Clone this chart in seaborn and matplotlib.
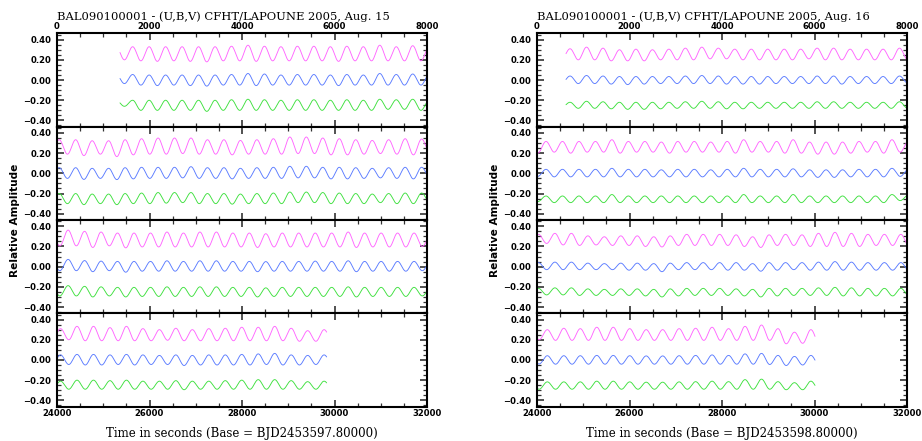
import numpy as np
import pandas as pd
import matplotlib
matplotlib.use("Agg")
import matplotlib.pyplot as plt
import seaborn as sns
from matplotlib.ticker import MultipleLocator, FuncFormatter

sns.set_theme(style="ticks")
plt.rcParams["font.family"] = ["DejaVu Sans"]

# ---------------- data ----------------
titles = ["BAL090100001 - (U,B,V) CFHT/LAPOUNE 2005, Aug. 15",
          "BAL090100001 - (U,B,V) CFHT/LAPOUNE 2005, Aug. 16"]
xlabels = ["Time in seconds (Base = BJD2453597.80000)",
           "Time in seconds (Base = BJD2453598.80000)"]
ylabel = "Relative Amplitude"
bands = ["U", "B", "V"]
band_colors = ["#ff66ff", "#5a7bff", "#3ee03e"]

period = 356.2                    # pulsation period (s)
strip_len = 8000                  # seconds per strip
n_strips = 4
night_start = [1362, 627]         # first data point (s)
night_end = [29831, 30011]        # last data point (s)
night_first_peak = [1636, 714.4]  # time of first maximum after start (s)

# night 1 (Aug. 15): value at each maximum / at the minimum preceding it
n1_U_peaks = [0.33,0.33,0.33,0.33,0.33,0.33,0.335,0.345,0.335,0.33,0.335,0.335,0.33,0.335,0.33,0.345,0.33,0.34,
              0.333,0.333,0.323,0.323,0.333,0.343,0.35,0.35,0.35,0.333,0.333,0.326,0.333,0.343,0.36,0.36,0.35,0.343,0.333,0.326,0.333,0.343,0.34,
              0.362,0.35,0.343,0.333,0.333,0.333,0.343,0.333,0.343,0.343,0.333,0.333,0.326,0.333,0.333,0.333,0.333,0.343,0.333,0.333,0.333,0.333,
              0.31,0.333,0.333,0.32,0.333,0.31,0.30,0.314,0.30,0.31,0.314,0.324,0.324,0.333,0.314,0.29,0.30]
n1_U_troughs = [0.20,0.19,0.185,0.19,0.185,0.18,0.19,0.19,0.185,0.19,0.19,0.19,0.19,0.185,0.19,0.19,0.19,0.19,
                0.19,0.19,0.176,0.19,0.166,0.183,0.19,0.19,0.196,0.19,0.19,0.183,0.19,0.19,0.19,0.196,0.196,0.183,0.183,0.19,0.196,0.19,0.183,
                0.206,0.206,0.19,0.206,0.186,0.195,0.195,0.195,0.195,0.195,0.195,0.195,0.19,0.195,0.195,0.195,0.195,0.195,0.19,0.195,0.195,0.195,
                0.20,0.20,0.19,0.19,0.19,0.19,0.19,0.195,0.19,0.19,0.19,0.19,0.19,0.19,0.19,0.185,0.185]
n1_B_peaks = [0.055,0.05,0.05,0.05,0.05,0.05,0.055,0.065,0.06,0.05,0.055,0.055,0.05,0.055,0.05,0.065,0.055,0.06,
              0.056,0.056,0.05,0.05,0.056,0.06,0.06,0.06,0.066,0.056,0.056,0.05,0.056,0.06,0.07,0.07,0.06,0.06,0.056,0.05,0.056,0.06,0.06,
              0.072,0.06,0.055,0.052,0.052,0.052,0.058,0.052,0.058,0.058,0.052,0.052,0.05,0.052,0.052,0.055,0.052,0.058,0.052,0.052,0.052,0.052,
              0.05,0.055,0.055,0.05,0.055,0.05,0.045,0.05,0.045,0.05,0.05,0.055,0.06,0.065,0.05,0.045,0.05]
n1_B_troughs = [-0.035,-0.05,-0.055,-0.05,-0.055,-0.06,-0.05,-0.05,-0.055,-0.05,-0.05,-0.05,-0.05,-0.055,-0.05,-0.05,-0.05,-0.05,
                -0.05,-0.05,-0.06,-0.05,-0.062,-0.055,-0.05,-0.05,-0.045,-0.05,-0.05,-0.055,-0.05,-0.05,-0.05,-0.045,-0.045,-0.055,-0.055,-0.05,-0.045,-0.05,-0.055,
                -0.04,-0.04,-0.05,-0.04,-0.055,-0.045,-0.045,-0.045,-0.045,-0.045,-0.045,-0.045,-0.05,-0.045,-0.045,-0.045,-0.045,-0.045,-0.05,-0.045,-0.045,-0.045,
                -0.04,-0.045,-0.05,-0.05,-0.045,-0.05,-0.045,-0.045,-0.055,-0.05,-0.05,-0.05,-0.05,-0.045,-0.05,-0.05,-0.045]
n1_V_peaks = [-0.20,-0.20,-0.20,-0.20,-0.20,-0.20,-0.195,-0.19,-0.195,-0.20,-0.195,-0.195,-0.20,-0.195,-0.20,-0.19,-0.195,-0.19,
              -0.20,-0.20,-0.205,-0.205,-0.20,-0.195,-0.19,-0.19,-0.19,-0.20,-0.20,-0.205,-0.20,-0.195,-0.185,-0.185,-0.19,-0.195,-0.20,-0.205,-0.20,-0.195,-0.195,
              -0.188,-0.195,-0.20,-0.205,-0.205,-0.205,-0.20,-0.205,-0.20,-0.20,-0.205,-0.205,-0.21,-0.205,-0.205,-0.205,-0.205,-0.20,-0.205,-0.205,-0.205,-0.205,
              -0.21,-0.20,-0.20,-0.205,-0.20,-0.21,-0.21,-0.205,-0.21,-0.21,-0.205,-0.20,-0.195,-0.195,-0.205,-0.215,-0.21]
n1_V_troughs = [-0.26,-0.30,-0.30,-0.30,-0.30,-0.31,-0.30,-0.30,-0.30,-0.30,-0.30,-0.30,-0.30,-0.30,-0.30,-0.30,-0.29,-0.29,
                -0.30,-0.30,-0.31,-0.30,-0.31,-0.30,-0.30,-0.295,-0.29,-0.30,-0.30,-0.305,-0.30,-0.30,-0.30,-0.29,-0.29,-0.30,-0.30,-0.30,-0.29,-0.30,-0.30,
                -0.29,-0.29,-0.30,-0.29,-0.30,-0.295,-0.295,-0.295,-0.295,-0.295,-0.295,-0.295,-0.30,-0.295,-0.295,-0.295,-0.295,-0.295,-0.30,-0.295,-0.295,-0.295,
                -0.29,-0.29,-0.29,-0.29,-0.29,-0.29,-0.29,-0.29,-0.295,-0.29,-0.29,-0.29,-0.29,-0.29,-0.29,-0.29,-0.29]

# night 2 (Aug. 16)
n2_U_peaks = [0.31,0.326,0.316,0.30,0.306,0.30,0.306,0.316,0.326,0.316,0.306,0.306,0.306,0.306,0.306,0.316,0.316,0.306,0.306,0.306,0.316,
              0.316,0.316,0.316,0.316,0.333,0.316,0.316,0.31,0.316,0.316,0.31,0.316,0.333,0.316,0.316,0.333,0.31,0.31,0.31,0.316,0.316,0.333,
              0.32,0.33,0.33,0.305,0.296,0.305,0.305,0.296,0.305,0.32,0.32,0.32,0.315,0.296,0.315,0.32,0.315,0.33,0.34,0.33,0.32,0.32,0.32,
              0.30,0.314,0.31,0.324,0.324,0.31,0.30,0.30,0.31,0.314,0.324,0.31,0.333,0.346,0.31,0.275,0.30]
n2_U_troughs = [0.21,0.20,0.20,0.19,0.19,0.19,0.20,0.20,0.20,0.21,0.21,0.20,0.20,0.20,0.20,0.21,0.20,0.20,0.20,0.20,0.20,
                0.20,0.21,0.20,0.21,0.21,0.20,0.21,0.21,0.20,0.21,0.21,0.21,0.20,0.21,0.21,0.20,0.20,0.19,0.19,0.20,0.21,0.20,
                0.21,0.23,0.215,0.21,0.215,0.21,0.21,0.20,0.195,0.21,0.21,0.21,0.21,0.20,0.19,0.21,0.21,0.20,0.20,0.20,0.20,0.21,0.21,
                0.20,0.194,0.194,0.194,0.194,0.194,0.194,0.194,0.194,0.194,0.194,0.194,0.194,0.194,0.194,0.16,0.165]
n2_B_peaks = [0.04,0.045,0.04,0.035,0.035,0.035,0.035,0.04,0.045,0.04,0.035,0.035,0.035,0.035,0.035,0.04,0.04,0.035,0.035,0.035,0.04,
              0.04,0.04,0.04,0.04,0.05,0.04,0.04,0.035,0.04,0.04,0.035,0.04,0.05,0.04,0.04,0.045,0.035,0.035,0.035,0.04,0.04,0.05,
              0.04,0.045,0.045,0.035,0.03,0.035,0.035,0.03,0.035,0.04,0.04,0.04,0.04,0.03,0.04,0.04,0.04,0.045,0.05,0.045,0.04,0.04,0.04,
              0.042,0.042,0.042,0.045,0.045,0.042,0.04,0.04,0.042,0.045,0.05,0.045,0.06,0.065,0.045,0.035,0.045]
n2_B_troughs = [-0.03,-0.035,-0.035,-0.04,-0.045,-0.04,-0.035,-0.035,-0.035,-0.035,-0.04,-0.04,-0.04,-0.035,-0.035,-0.035,-0.035,-0.04,-0.035,-0.035,-0.035,
                -0.03,-0.035,-0.035,-0.035,-0.035,-0.035,-0.035,-0.035,-0.035,-0.035,-0.035,-0.035,-0.035,-0.035,-0.035,-0.035,-0.035,-0.04,-0.04,-0.035,-0.035,-0.035,
                -0.03,-0.03,-0.03,-0.03,-0.03,-0.03,-0.035,-0.035,-0.05,-0.03,-0.03,-0.03,-0.035,-0.035,-0.045,-0.035,-0.03,-0.035,-0.035,-0.035,-0.035,-0.035,-0.035,
                -0.04,-0.042,-0.042,-0.042,-0.042,-0.042,-0.042,-0.042,-0.042,-0.042,-0.042,-0.042,-0.042,-0.042,-0.045,-0.055,-0.05]
n2_V_peaks = [-0.22,-0.21,-0.215,-0.22,-0.22,-0.22,-0.22,-0.215,-0.21,-0.215,-0.22,-0.22,-0.22,-0.22,-0.22,-0.215,-0.215,-0.22,-0.22,-0.22,-0.215,
              -0.224,-0.224,-0.224,-0.224,-0.21,-0.224,-0.224,-0.224,-0.224,-0.224,-0.224,-0.224,-0.21,-0.224,-0.224,-0.21,-0.224,-0.224,-0.224,-0.224,-0.224,-0.21,
              -0.215,-0.21,-0.21,-0.22,-0.225,-0.22,-0.22,-0.225,-0.22,-0.215,-0.215,-0.215,-0.22,-0.225,-0.215,-0.215,-0.215,-0.21,-0.205,-0.21,-0.215,-0.215,-0.215,
              -0.217,-0.217,-0.217,-0.21,-0.21,-0.217,-0.22,-0.22,-0.217,-0.215,-0.21,-0.215,-0.195,-0.19,-0.215,-0.225,-0.21]
n2_V_troughs = [-0.27,-0.28,-0.28,-0.285,-0.29,-0.29,-0.285,-0.28,-0.28,-0.28,-0.285,-0.285,-0.28,-0.28,-0.28,-0.28,-0.28,-0.28,-0.28,-0.28,-0.28,
                -0.28,-0.29,-0.29,-0.29,-0.29,-0.29,-0.29,-0.29,-0.29,-0.29,-0.29,-0.29,-0.29,-0.29,-0.29,-0.29,-0.29,-0.29,-0.29,-0.29,-0.29,-0.29,
                -0.27,-0.28,-0.28,-0.285,-0.285,-0.285,-0.285,-0.29,-0.30,-0.29,-0.285,-0.285,-0.285,-0.29,-0.30,-0.29,-0.285,-0.285,-0.285,-0.29,-0.29,-0.29,-0.29,
                -0.29,-0.29,-0.29,-0.29,-0.29,-0.29,-0.29,-0.29,-0.29,-0.29,-0.29,-0.29,-0.29,-0.29,-0.29,-0.295,-0.295]

nights = [
    {"U": (n1_U_peaks, n1_U_troughs), "B": (n1_B_peaks, n1_B_troughs), "V": (n1_V_peaks, n1_V_troughs)},
    {"U": (n2_U_peaks, n2_U_troughs), "B": (n2_B_peaks, n2_B_troughs), "V": (n2_V_peaks, n2_V_troughs)},
]


def light_curve(start, end, first_peak, peaks, troughs, dt=4.0):
    """Smooth curve through the read-off extrema (minimum before each maximum)."""
    pk_t = first_peak + period * np.arange(len(peaks))
    tr_t = pk_t - period / 2
    ext_t = np.empty(2 * len(peaks))
    ext_v = np.empty(2 * len(peaks))
    ext_t[0::2], ext_t[1::2] = tr_t, pk_t
    ext_v[0::2], ext_v[1::2] = troughs, peaks
    t = np.arange(start, end + dt / 2, dt)
    tt = np.where(t < ext_t[0], 2 * ext_t[0] - t, t)
    tt = np.where(tt > ext_t[-1], 2 * ext_t[-1] - tt, tt)
    i = np.clip(np.searchsorted(ext_t, tt, side="right") - 1, 0, len(ext_t) - 2)
    frac = (tt - ext_t[i]) / (ext_t[i + 1] - ext_t[i])
    w = (1 - np.cos(np.pi * frac)) / 2
    return t, ext_v[i] + (ext_v[i + 1] - ext_v[i]) * w


frames = []
for ni, night in enumerate(nights):
    for b in bands:
        pk, tr = night[b]
        t, v = light_curve(night_start[ni], night_end[ni], night_first_peak[ni], pk, tr)
        frames.append(pd.DataFrame({"night": ni, "band": b, "t": t, "value": v}))
df = pd.concat(frames, ignore_index=True)
df["strip"] = (df["t"] // strip_len).astype(int)

# ---------------- figure ----------------
W, H = 922, 441
fig = plt.figure(figsize=(W / 100, H / 100), dpi=100)
fig.patch.set_facecolor("white")

lefts = [57, 537]
ax_w = 370
top0 = 33.4
strip_h = 93.3
ylim = (-0.462, 0.462)

minus_fmt = FuncFormatter(lambda v, p: ("%.2f" % v).replace("-", "\u2212"))
tick_font = {"family": "DejaVu Sans", "weight": "bold", "size": 6.1}
serif = ["DejaVu Serif"]

for ni in range(2):
    for k in range(n_strips):
        top = top0 + k * strip_h
        ax = fig.add_axes([lefts[ni] / W, 1 - (top + strip_h) / H, ax_w / W, strip_h / H])
        sub = df[(df["night"] == ni) & (df["strip"] == k)]
        sns.lineplot(data=sub, x="t", y="value", hue="band", hue_order=bands,
                     palette=band_colors, estimator=None, sort=False, legend=False,
                     lw=0.65, ax=ax)
        ax.set_xlim(k * strip_len, (k + 1) * strip_len)
        ax.set_ylim(*ylim)
        ax.set_xlabel("")
        ax.set_ylabel("")
        ax.set_facecolor("white")
        ax.xaxis.set_major_locator(MultipleLocator(2000))
        ax.xaxis.set_minor_locator(MultipleLocator(500))
        ax.yaxis.set_major_locator(MultipleLocator(0.2))
        ax.yaxis.set_minor_locator(MultipleLocator(0.05))
        ax.yaxis.set_major_formatter(minus_fmt)
        ax.tick_params(which="both", direction="in", top=True, bottom=True,
                       left=True, right=True, color="#333333")
        ax.tick_params(which="major", length=5, width=1.2)
        ax.tick_params(which="minor", length=2.6, width=0.9)
        ax.tick_params(axis="y", pad=4.2, labelleft=True)
        ax.tick_params(axis="x", pad=2.0, labelbottom=(k == n_strips - 1),
                       labeltop=(k == 0))
        for lab in ax.get_xticklabels() + ax.get_yticklabels():
            lab.set_fontproperties(tick_font)
            lab.set_color("black")
        for sp in ax.spines.values():
            sp.set_linewidth(1.5)
            sp.set_color("black")
    fig.text(lefts[ni] / W, 1 - 16.5 / H, titles[ni], ha="left", va="center",
             family=serif, size=8.27, color="black")
    fig.text((lefts[ni] + ax_w / 2) / W, 1 - 433 / H, xlabels[ni], ha="center",
             va="center", family=serif, size=8.5, color="black")
    fig.text((lefts[ni] - 42) / W, 1 - 220 / H, ylabel, rotation=90, ha="center",
             va="center", weight="bold", size=7.6, family="DejaVu Sans", color="black")

fig.savefig("out.png", dpi=100, facecolor="white")
